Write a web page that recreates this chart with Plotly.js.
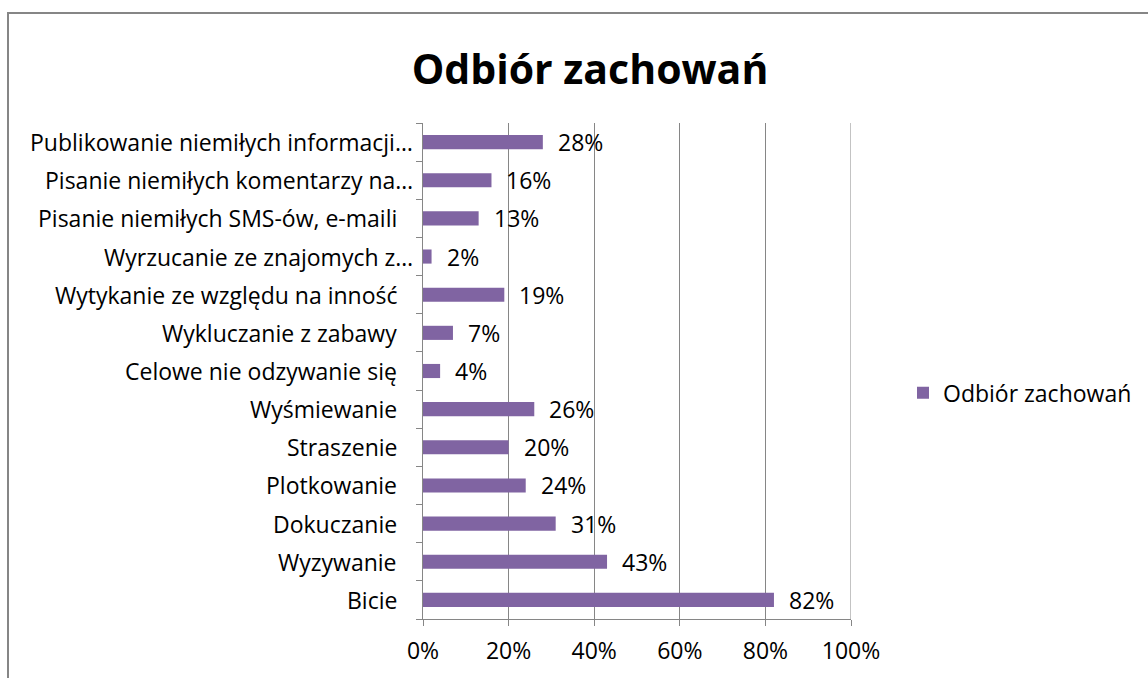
<!DOCTYPE html>
<html>
<head>
<meta charset="utf-8">
<script src="https://cdn.plot.ly/plotly-3.0.1.min.js"></script>
<style>
  html, body { margin: 0; padding: 0; background: #fff; }
  #chart { width: 1148px; height: 678px; }
</style>
</head>
<body>
<div id="chart"></div>
<script>
// bottom to top, as Excel draws them
const categories = [
    'Bicie',
    'Wyzywanie',
    'Dokuczanie',
    'Plotkowanie',
    'Straszenie',
    'Wyśmiewanie',
    'Celowe nie odzywanie się',
    'Wykluczanie z zabawy',
    'Wytykanie ze względu na inność',
    'Wyrzucanie ze znajomych z…',
    'Pisanie niemiłych SMS-ów, e-maili',
    'Pisanie niemiłych komentarzy na…',
    'Publikowanie niemiłych informacji…'
];
const values = [82, 43, 31, 24, 20, 26, 4, 7, 19, 2, 13, 16, 28];
const seriesName = 'Odbiór zachowań';
const xTicks = [0, 20, 40, 60, 80, 100];
const xTickText = ['0%', '20%', '40%', '60%', '80%', '100%'];

const purple = '#8064A2';
const grey = '#868686';
const font = '"Open Sans", Lato, sans-serif';
const fsize = 23;

// value labels at the bar ends
const valueLabels = categories.map((c, i) => ({
    x: values[i], y: c, xref: 'x', yref: 'y',
    text: values[i] + '%', showarrow: false,
    xanchor: 'left', xshift: 13,
    font: {size: fsize, color: '#000', family: font}
}));

// category labels; Excel lets the cut-off ones (with …) reach closer to the axis
const categoryLabels = categories.map(c => ({
    x: 0, y: c, xref: 'paper', yref: 'y',
    text: c, showarrow: false,
    xanchor: 'right', xshift: c.endsWith('…') ? -8 : -24,
    font: {size: fsize, color: '#000', family: font}
}));

const trace = {
    type: 'bar',
    orientation: 'h',
    x: values,
    y: categories,
    name: seriesName,
    marker: {color: purple},
    width: 0.37,
    hoverinfo: 'x+y'
};

const layout = {
    width: 1148,
    height: 678,
    margin: {l: 423, r: 297, t: 123, b: 59, pad: 0, autoexpand: false},
    paper_bgcolor: '#fff',
    plot_bgcolor: '#fff',
    font: {family: font, size: fsize, color: '#000'},
    title: {
        text: '<b>' + seriesName + '</b>',
        font: {size: 41, family: font, color: '#000'},
        x: 590 / 1148, xanchor: 'center',
        y: 1 - 70 / 678, yanchor: 'middle'
    },
    xaxis: {
        range: [0, 100],
        tickvals: xTicks,
        ticktext: xTickText,
        showgrid: true,
        gridcolor: grey,
        gridwidth: 1,
        zeroline: false,
        showline: true,
        linecolor: grey,
        linewidth: 1,
        ticks: 'outside',
        ticklen: 6,
        tickcolor: grey,
        tickfont: {size: fsize},
        ticklabelstandoff: 5,
        fixedrange: true
    },
    yaxis: {
        type: 'category',
        categoryorder: 'array',
        categoryarray: categories,
        showgrid: false,
        zeroline: false,
        showline: true,
        linecolor: grey,
        linewidth: 1,
        ticks: 'outside',
        tickson: 'boundaries',
        ticklen: 6,
        tickcolor: grey,
        showticklabels: false,
        fixedrange: true
    },
    showlegend: true,
    legend: {
        x: (903 - 423) / 428, xanchor: 'left',
        y: 0.456, yanchor: 'middle',
        font: {size: fsize},
        itemwidth: 30,
        bgcolor: 'rgba(0,0,0,0)'
    },
    annotations: valueLabels.concat(categoryLabels),
    shapes: [{
        // chart frame
        type: 'rect', xref: 'paper', yref: 'paper',
        x0: (8 - 423) / 428, x1: (1200 - 423) / 428,
        y0: (619 - 700) / 496, y1: (619 - 13) / 496,
        line: {color: grey, width: 2}, fillcolor: 'rgba(0,0,0,0)', layer: 'below'
    }, {
        // last gridline at the right edge of the plot
        type: 'line', xref: 'x', yref: 'paper',
        x0: 100, x1: 100, y0: 0, y1: 1,
        line: {color: grey, width: 1}, layer: 'below'
    }],
    bargap: 0.63
};

Plotly.newPlot('chart', [trace], layout, {displayModeBar: false, staticPlot: true});
</script>
</body>
</html>
